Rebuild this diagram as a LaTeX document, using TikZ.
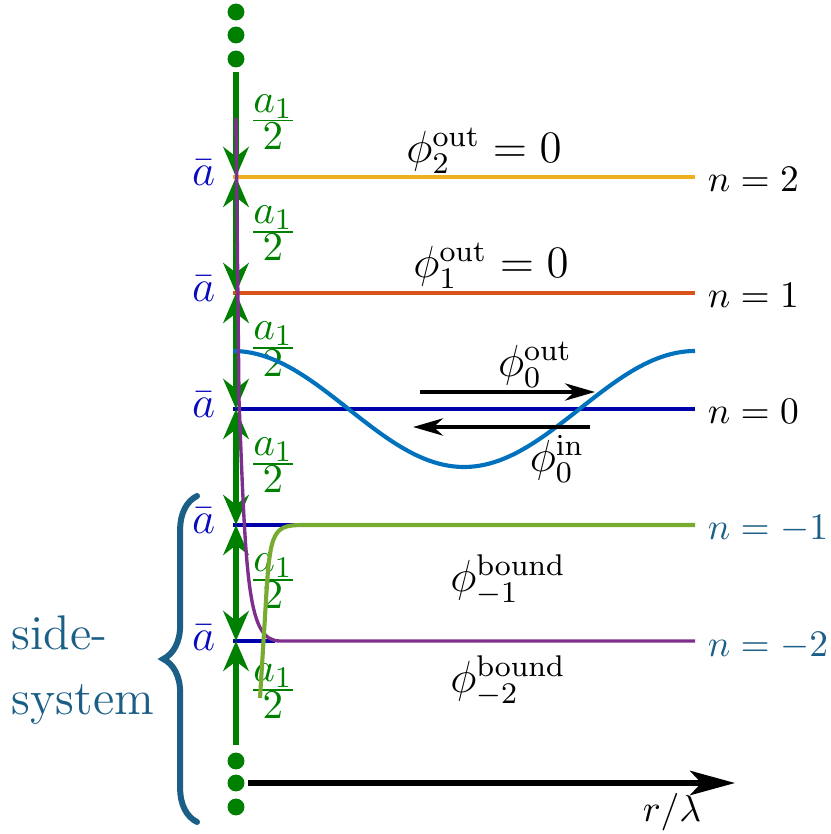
\documentclass[tikz,border=0pt]{standalone}
\usepackage{amsmath}
\usetikzlibrary{arrows.meta,decorations.pathreplacing}
\definecolor{lvlyellow}{RGB}{237,177,32}
\definecolor{lvlorange}{RGB}{217,83,25}
\definecolor{lvlnavy}{RGB}{0,0,170}
\definecolor{abarblue}{RGB}{10,10,190}
\definecolor{wavblue}{RGB}{0,114,189}
\definecolor{boundgreen}{RGB}{119,172,48}
\definecolor{boundpurple}{RGB}{126,47,142}
\definecolor{arrgreen}{RGB}{0,128,0}
\definecolor{sideteal}{RGB}{27,94,134}
\begin{document}
\begin{tikzpicture}[x=0.267pt, y=-0.267pt,
  garrow/.style={arrgreen, line width=1.35pt, >={Stealth[length=8pt,width=6.8pt,inset=2.6pt]}},
  parrow/.style={black, line width=1pt, ->, >={Stealth[length=8pt,width=4.6pt,inset=2.5pt]}},
  level/.style={line width=1.1pt},
  phil/.style={font=\fontsize{11.5}{14}\selectfont},
  halfl/.style={text=arrgreen, anchor=west, inner sep=0pt, font=\fontsize{11}{13}\selectfont},
  gdot/.style={circle, fill=arrgreen, inner sep=0pt, minimum size=4.5pt}]
  \useasboundingbox (0,0) rectangle (830,834);
  % levels, abar and n labels
  \foreach \nm/\n/\yy/\cc/\xe/\tc in {L2/2/177/lvlyellow/695/black, L1/1/293/lvlorange/695/black, L0/0/409/lvlnavy/695/black, Lm1/-1/525/lvlnavy/300/sideteal, Lm2/-2/641/lvlnavy/275/sideteal} {
    \coordinate (\nm) at (236,\yy);
    \draw[level, \cc] (233,\yy) -- (\xe,\yy);
    \node[text=abarblue, anchor=base east, inner sep=0pt, font=\fontsize{12}{14}\selectfont] (abar\nm) at (216,\yy+9) {$\bar{a}$};
    \node[text=\tc, anchor=base west, inner sep=0pt] (lab\nm) at (707,\yy+15) {$n=\n$};
  }
  % dots above and below
  \foreach \yy [count=\i] in {12,35,59,761,783,807}
    \node[gdot] (dot\i) at (236,\yy) {};
  % green arrows
  \coordinate (gtop) at (236,72);
  \coordinate (gbot) at (236,745);
  \draw[garrow,->] (gtop) -- (L2);
  \foreach \a/\b in {L2/L1, L1/L0, L0/Lm1, Lm1/Lm2}
    \draw[garrow,<->] (\a) -- (\b);
  \draw[garrow,->] (gbot) -- (Lm2);
  \foreach \yy [count=\i] in {122,233,349,465,581,691}
    \node[halfl] (half\i) at (248,\yy) {$\frac{\textstyle a_1}{\textstyle 2}$};
  % wave functions
  \draw[wavblue, line width=1.1pt] plot[domain=233:695, samples=100] (\x,{409-58*cos((\x-233)/462*360)});
  \draw[boundpurple, line width=0.9pt] (236,118) -- (239,400) .. controls (246,585) and (248,641) .. (280,641) -- (695,641);
  \draw[boundgreen, line width=1.1pt] (260,698) -- (266,600) .. controls (270,528) and (274,525) .. (305,525) -- (695,525);
  % in/out arrows
  \coordinate (outA) at (420,392);
  \coordinate (outB) at (595,392);
  \coordinate (inA) at (590,427);
  \coordinate (inB) at (413,427);
  \draw[parrow] (outA) -- (outB);
  \draw[parrow] (inA) -- (inB);
  \node[phil] (phiout) at (535,365) {$\phi_0^{\mathrm{out}}$};
  \node[phil] (phiin) at (557,459) {$\phi_0^{\mathrm{in}}$};
  \node[phil] (phi2) at (484,151) {$\phi_2^{\mathrm{out}}=0$};
  \node[phil] (phi1) at (491,266) {$\phi_1^{\mathrm{out}}=0$};
  \node[phil] (phim1) at (508,580) {$\phi_{-1}^{\mathrm{bound}}$};
  \node[phil] (phim2) at (508,681) {$\phi_{-2}^{\mathrm{bound}}$};
  % axis
  \coordinate (ax0) at (248,783);
  \coordinate (ax1) at (735,783);
  \draw[line width=1.4pt, -{Stealth[length=12pt,width=6.5pt,inset=3pt]}] (ax0) -- (ax1);
  \node (rl) at (672,812) {$r/\lambda$};
  % side-system brace
  \draw[sideteal, line width=1.6pt, line cap=round, decorate, decoration={brace, amplitude=9pt}] (197,822) -- (197,496);
  \node[text=sideteal, font=\fontsize{13}{17.5}\selectfont, align=left, anchor=west, inner sep=0pt] (side) at (11,670) {side-\\system};
\end{tikzpicture}
\end{document}
